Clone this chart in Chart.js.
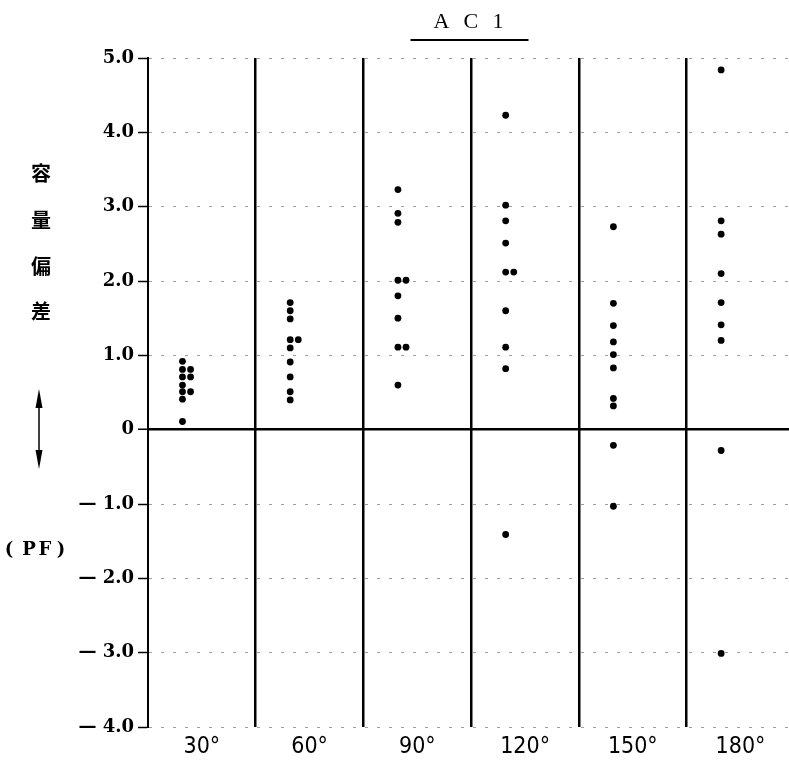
<!DOCTYPE html>
<html>
<head>
<meta charset="utf-8">
<script src="https://cdn.jsdelivr.net/npm/chart.js@4/dist/chart.umd.min.js"></script>
<style>
  html, body { margin: 0; padding: 0; background: #fff; overflow: hidden; }
  #wrap { width: 789px; height: 768px; position: relative; }
</style>
</head>
<body>
<div id="wrap"><canvas id="c" width="789" height="768"></canvas></div>
<script>
// ---- data ----
const categories = ['30°', '60°', '90°', '120°', '150°', '180°'];
// main column of points in each category (pF)
const mainValues = [
  [0.92, 0.81, 0.71, 0.60, 0.51, 0.41, 0.11],
  [1.71, 1.60, 1.49, 1.21, 1.10, 0.91, 0.71, 0.51, 0.40],
  [3.23, 2.91, 2.79, 2.01, 1.80, 1.50, 1.11, 0.60],
  [4.23, 3.02, 2.81, 2.51, 2.12, 1.60, 1.11, 0.82, -1.41],
  [2.73, 1.70, 1.40, 1.18, 1.01, 0.83, 0.42, 0.32, -0.21, -1.03],
  [4.84, 2.81, 2.63, 2.10, 1.71, 1.41, 1.20, -0.28, -3.01]
];
// second (side-by-side) column of points
const sideValues = [
  [0.81, 0.71, 0.51],
  [1.21],
  [2.01, 1.11],
  [2.12],
  [],
  []
];
const yTickValues = [-4, -3, -2, -1, 0, 1, 2, 3, 4, 5];
const yTickLabels = ['— 4.0', '— 3.0', '— 2.0', '— 1.0', '0', '1.0', '2.0', '3.0', '4.0', '5.0'];
const titleText = 'A C 1';
const yTitleChars = ['容', '量', '偏', '差'];
const yUnit = ['(', 'P', 'F', ')'];

// ---- build datasets ----
const MAIN_OFF = 0.32, SIDE_OFF = 0.395;
const X_MAX = 5.95;
function pts(arr, off) {
  const out = [];
  arr.forEach((vals, i) => vals.forEach(v => out.push({ x: i + off, y: v })));
  return out;
}
const xTickValues = [];
for (let i = 0; i < categories.length; i++) {
  xTickValues.push(i);
  xTickValues.push(i + 0.5);
}

const decorPlugin = {
  id: 'decor',
  afterDraw(chart) {
    const ctx = chart.ctx;
    const ca = chart.chartArea;
    ctx.save();
    ctx.fillStyle = '#000';
    ctx.strokeStyle = '#000';
    // title
    const cx = (ca.left + ca.right) / 2;
    ctx.font = '22px "Liberation Serif", "DejaVu Serif", serif';
    ctx.textAlign = 'center';
    ctx.textBaseline = 'middle';
    ctx.fillText(titleText.split('').join('\u2009'), cx, 22);
    ctx.lineWidth = 2;
    ctx.beginPath();
    ctx.moveTo(cx - 58, 40);
    ctx.lineTo(cx + 60, 40);
    ctx.stroke();
    // vertical y title
    ctx.font = 'bold 20px "Noto Sans CJK JP", sans-serif';
    const ys = [173, 220, 266, 311];
    yTitleChars.forEach((ch, i) => ctx.fillText(ch, 41, ys[i]));
    // double arrow
    ctx.lineWidth = 1.5;
    ctx.beginPath();
    ctx.moveTo(39, 400);
    ctx.lineTo(39, 458);
    ctx.stroke();
    ctx.beginPath();
    ctx.moveTo(39, 389); ctx.lineTo(35.5, 408); ctx.lineTo(42.5, 408); ctx.closePath(); ctx.fill();
    ctx.beginPath();
    ctx.moveTo(39, 469); ctx.lineTo(35.5, 450); ctx.lineTo(42.5, 450); ctx.closePath(); ctx.fill();
    // unit
    ctx.font = 'bold 18px "DejaVu Serif", "Liberation Serif", serif';
    const ux = [9, 29, 45, 61];
    yUnit.forEach((ch, i) => ctx.fillText(ch, ux[i], 550));
    ctx.restore();
  }
};

new Chart(document.getElementById('c'), {
  type: 'scatter',
  data: {
    datasets: [
      { data: pts(mainValues, MAIN_OFF), backgroundColor: '#000', borderWidth: 0, pointRadius: 3.4 },
      { data: pts(sideValues, SIDE_OFF), backgroundColor: '#000', borderWidth: 0, pointRadius: 3.4 }
    ]
  },
  options: {
    responsive: false,
    animation: false,
    layout: { autoPadding: false, padding: { top: 58, left: 0, right: 0, bottom: 0 } },
    plugins: { legend: { display: false }, tooltip: { enabled: false }, title: { display: false } },
    scales: {
      x: {
        type: 'linear',
        min: 0,
        max: X_MAX,
        afterBuildTicks(scale) { scale.ticks = xTickValues.map(v => ({ value: v })); },
        afterFit(scale) { scale.height = 41; scale.paddingLeft = 0; scale.paddingRight = 0; scale.paddingTop = 0; scale.paddingBottom = 0; },
        border: { display: false },
        grid: {
          drawTicks: false,
          color: c => (Number.isInteger(c.tick.value) && c.tick.value > 0) ? '#000' : 'rgba(0,0,0,0)',
          lineWidth: 2.5
        },
        ticks: {
          autoSkip: false,
          maxRotation: 0,
          padding: 6,
          color: '#000',
          font: { family: '"Liberation Sans Narrow", "DejaVu Sans Condensed", sans-serif', size: 23 },
          callback: v => Number.isInteger(v) ? '' : categories[Math.floor(v)]
        }
      },
      y: {
        min: -4,
        max: 5,
        afterBuildTicks(scale) { scale.ticks = yTickValues.map(v => ({ value: v })); },
        afterFit(scale) { scale.width = 148; scale.paddingTop = 0; scale.paddingBottom = 0; scale.paddingLeft = 0; scale.paddingRight = 0; },
        border: {
          display: true, color: '#000', width: 2,
          dash: c => (c.tick && c.tick.value !== 0) ? [3, 9] : []
        },
        grid: {
          color: c => c.tick.value === 0 ? '#000' : 'rgba(0,0,0,0.38)',
          lineWidth: c => c.tick.value === 0 ? 2.5 : 1,
          tickColor: '#000',
          tickLength: 10,
          tickWidth: 1.5,
          tickBorderDash: []
        },
        ticks: {
          padding: 4,
          color: '#000',
          font: { family: '"DejaVu Serif", "Liberation Serif", serif', size: 18, weight: 'bold' },
          callback: (v, i) => yTickLabels[i]
        }
      }
    }
  },
  plugins: [decorPlugin]
});
</script>
</body>
</html>
